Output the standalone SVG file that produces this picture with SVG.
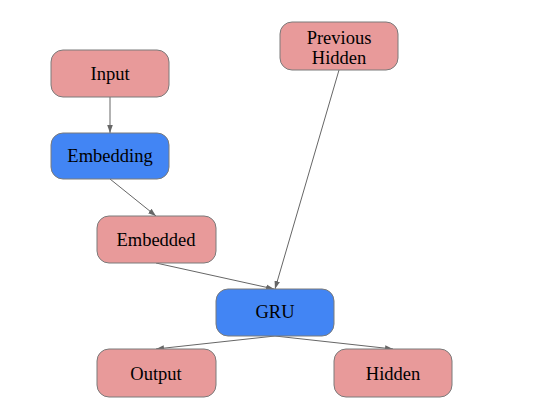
<svg xmlns="http://www.w3.org/2000/svg" width="536" height="411" viewBox="0 0 536 411">
<style>
.n rect{stroke:#7a7a7a;stroke-width:1}
.p rect{fill:#e89a9a}
.b rect{fill:#4285f4}
text{font-family:"Liberation Serif","Times New Roman",serif;font-size:18.5px;fill:#000;text-anchor:middle}
.e line{stroke:#666;stroke-width:1;marker-end:url(#a)}
</style>
<defs>
<marker id="a" viewBox="0 0 10 10" refX="10" refY="5" markerWidth="8" markerHeight="8" markerUnits="userSpaceOnUse" orient="auto">
<path d="M0,1.5 L10,5 L0,8.5 Z" fill="#666"/>
</marker>
</defs>
<rect width="536" height="411" fill="#fff"/>
<g class="e" id="edges">
<line x1="110" y1="97" x2="110" y2="133"/>
<line x1="110" y1="179" x2="156" y2="216"/>
<line x1="156" y1="263" x2="274" y2="289"/>
<line x1="339" y1="70" x2="275" y2="289"/>
<line x1="275" y1="336" x2="156" y2="349"/>
<line x1="275" y1="336" x2="393" y2="349"/>
</g>
<g id="input" class="n p"><rect x="51" y="50" width="118" height="47" rx="12"/><text x="110" y="80">Input</text></g>
<g id="embedding" class="n b"><rect x="51" y="133" width="118" height="46" rx="12"/><text x="110" y="162">Embedding</text></g>
<g id="prev_hidden" class="n p"><rect x="280" y="22" width="118" height="48" rx="12"/><text x="339" y="43.5">Previous</text><text x="339" y="64">Hidden</text></g>
<g id="embedded" class="n p"><rect x="97" y="216" width="119" height="47" rx="12"/><text x="156" y="245.5">Embedded</text></g>
<g id="gru" class="n b"><rect x="216" y="289" width="118" height="47" rx="12"/><text x="275" y="318">GRU</text></g>
<g id="output" class="n p"><rect x="97" y="349" width="119" height="48" rx="12"/><text x="156" y="380">Output</text></g>
<g id="hidden" class="n p"><rect x="334" y="349" width="118" height="48" rx="12"/><text x="393" y="380">Hidden</text></g>
</svg>
